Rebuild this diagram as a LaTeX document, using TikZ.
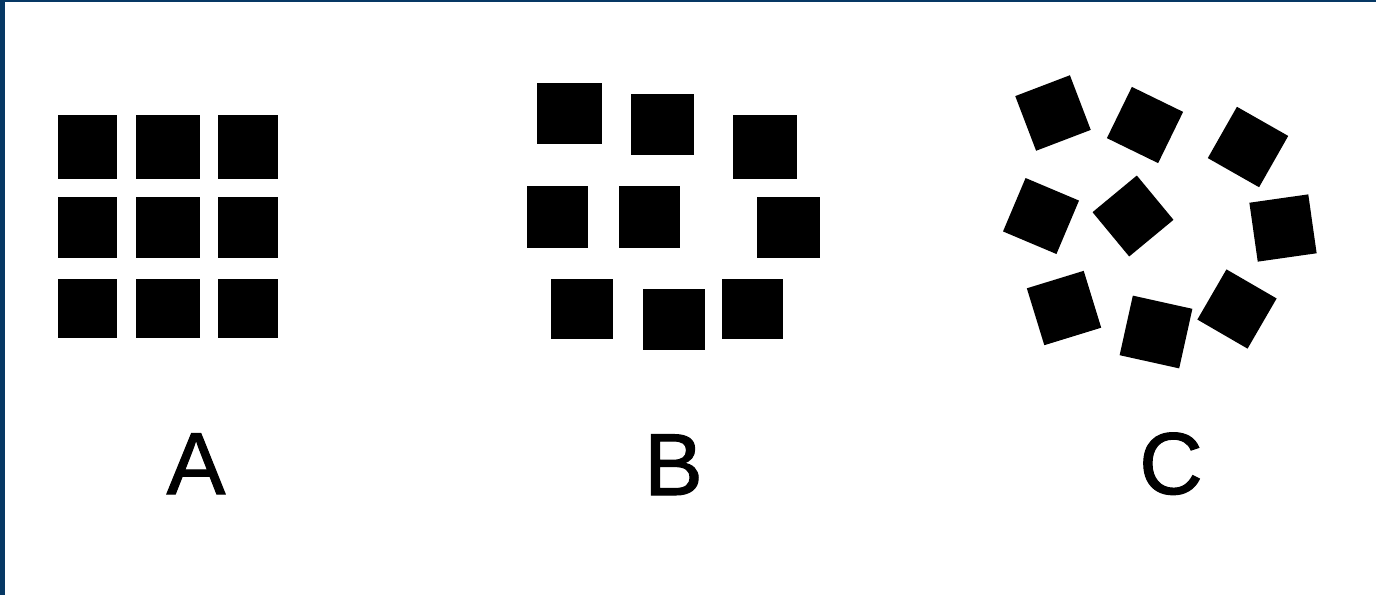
\documentclass[tikz,border=0pt]{standalone}
\usepackage{fontspec}
\setmainfont{Liberation Sans}
\newfontfamily\lblfont[FakeBold=1.2]{Liberation Sans}
\definecolor{frameblue}{RGB}{6,56,100}
\begin{document}
\begin{tikzpicture}[x=1pt,y=-1pt,
  sq/.style={fill=black,draw=none,inner sep=0pt,outer sep=0pt},
  lbl/.style={anchor=base,inner sep=0pt,font=\lblfont\fontsize{88}{100}\selectfont}]
\useasboundingbox (0,0) rectangle (1376,595);
\fill[white] (0,0) rectangle (1376,595);
\fill[frameblue] (0,0) rectangle (1376,2);
\fill[frameblue] (0,0) rectangle (5,595);
% Panel A
\node[sq,minimum width=59,minimum height=64] (a11) at (87.5,147) {};
\node[sq,minimum width=64,minimum height=64] (a12) at (168,147) {};
\node[sq,minimum width=60,minimum height=64] (a13) at (248,147) {};
\node[sq,minimum width=59,minimum height=61] (a21) at (87.5,227.5) {};
\node[sq,minimum width=64,minimum height=61] (a22) at (168,227.5) {};
\node[sq,minimum width=60,minimum height=61] (a23) at (248,227.5) {};
\node[sq,minimum width=59,minimum height=59] (a31) at (87.5,308.5) {};
\node[sq,minimum width=64,minimum height=59] (a32) at (168,308.5) {};
\node[sq,minimum width=60,minimum height=59] (a33) at (248,308.5) {};
% Panel B
\node[sq,minimum width=65,minimum height=61] (b1) at (569.5,113.5) {};
\node[sq,minimum width=63,minimum height=61] (b2) at (662.5,124.5) {};
\node[sq,minimum width=64,minimum height=64] (b3) at (765,147) {};
\node[sq,minimum width=61,minimum height=62] (b4) at (557.5,217) {};
\node[sq,minimum width=61,minimum height=62] (b5) at (649.5,217) {};
\node[sq,minimum width=63,minimum height=61] (b6) at (788.5,227.5) {};
\node[sq,minimum width=62,minimum height=60] (b7) at (582,309) {};
\node[sq,minimum width=62,minimum height=61] (b8) at (674,319.5) {};
\node[sq,minimum width=61,minimum height=60] (b9) at (752.5,309) {};
% Panel C
\node[sq,minimum size=58.5,rotate=20.9] (c1) at (1053,113) {};
\node[sq,minimum size=57,rotate=-26] (c2) at (1145,125) {};
\node[sq,minimum size=59,rotate=-29.6] (c3) at (1248,147) {};
\node[sq,minimum size=58,rotate=-22.9] (c4) at (1041,216) {};
\node[sq,minimum size=57.5,rotate=-50.4] (c5) at (1133,216) {};
\node[sq,minimum size=59.5,rotate=8.1] (c6) at (1283,228) {};
\node[sq,minimum size=59.5,rotate=17.1] (c7) at (1064,308) {};
\node[sq,minimum size=61,rotate=-12.5] (c8) at (1156,332) {};
\node[sq,minimum size=58,rotate=-30.1] (c9) at (1237,309) {};
% Labels
\node[lbl] (la) at (196,494) {A};
\node[lbl] (lb) at (673.5,495) {B};
\node[lbl] (lc) at (1171,494) {C};
\end{tikzpicture}
\end{document}
